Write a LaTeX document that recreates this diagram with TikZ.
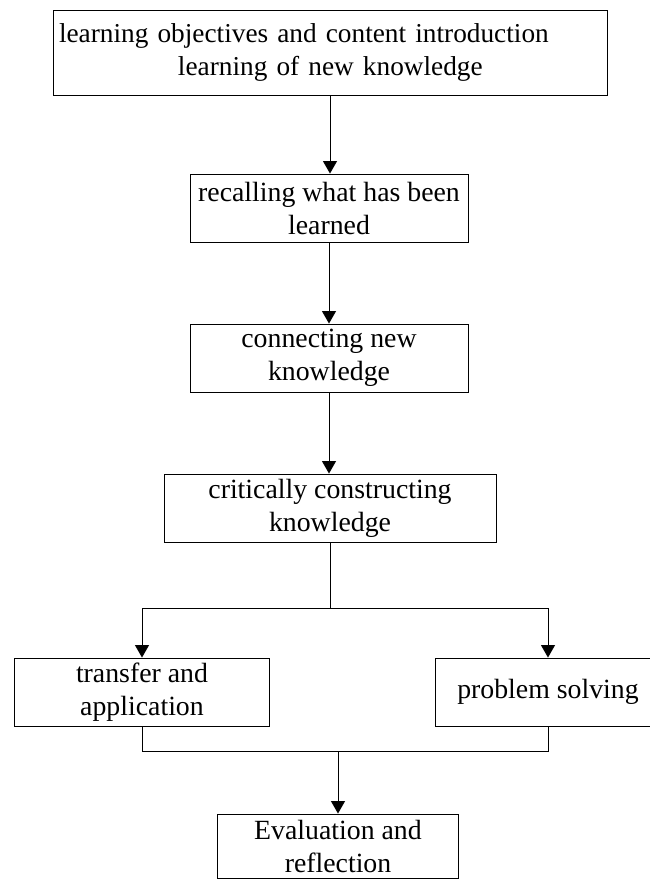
\documentclass[tikz,border=0pt]{standalone}
\usepackage{fontspec}
\setmainfont{Liberation Serif}
\usetikzlibrary{arrows.meta}
\begin{document}
\begin{tikzpicture}[x=1pt,y=-1pt,
  box/.style={draw, line width=0.9pt, rectangle, inner sep=0pt, align=center,
    font=\fontsize{27.8}{33}\selectfont},
  link/.style={line width=0.9pt},
  arr/.style={line width=0.9pt, -{Triangle[length=12.5pt,width=14pt]}}]
\useasboundingbox (0,0) rectangle (649,879);
\node[box, minimum width=554pt, minimum height=85pt, align=left, text width=542pt, inner xsep=6pt,
  font=\fontsize{27.3}{33.5}\selectfont]
  (n1) at (330,52.5) {learning objectives and content introduction\\\hspace*{119pt}learning of new knowledge};
\node[box, minimum width=278pt, minimum height=68pt] (n2) at (329,208) {recalling what has been\\learned};
\node[box, minimum width=278pt, minimum height=68pt] (n3) at (329,358) {connecting new\\knowledge};
\node[box, minimum width=332pt, minimum height=68pt] (n4) at (330,508) {critically constructing\\knowledge};
\node[box, minimum width=254.5pt, minimum height=68pt] (n5) at (142,692) {transfer and\\application};
\node[box, minimum width=226pt, minimum height=68pt] (n6) at (548,692) {problem solving};
\node[box, minimum width=241pt, minimum height=64pt] (n7) at (338,846) {Evaluation and\\reflection};
\coordinate (split) at (330,608);
\coordinate (merge) at (338,751);
\draw[arr] (n1.south) -- (n1.south |- n2.north);
\draw[arr] (n2.south) -- (n3.north);
\draw[arr] (n3.south) -- (n3.south |- n4.north);
\draw[link] (n4.south) -- (split);
\draw[arr] (split) -| (n5.north);
\draw[arr] (split) -| (n6.north);
\draw[link] (n5.south) |- (merge);
\draw[link] (n6.south) |- (merge);
\draw[arr] (merge) -- (n7.north);
\end{tikzpicture}
\end{document}
